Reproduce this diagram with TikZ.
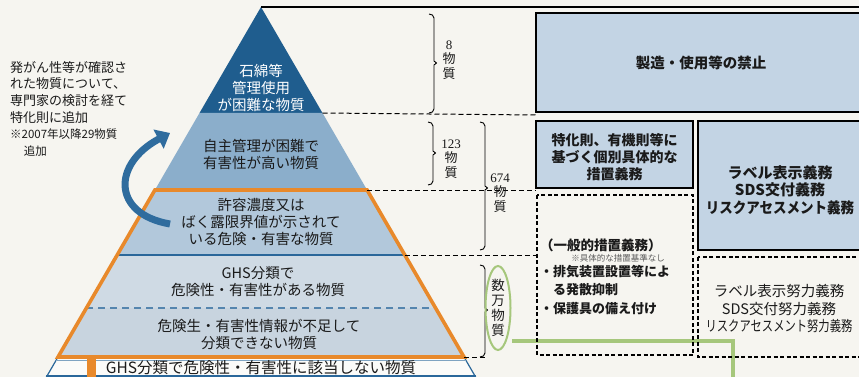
\documentclass[tikz,border=0pt]{standalone}
\usepackage{fontspec}
\setmainfont{Noto Sans CJK JP}
\newfontfamily\numserif{Liberation Serif}
\usetikzlibrary{arrows.meta}
\definecolor{bgc}{HTML}{F6F5F0}
\definecolor{lay1}{HTML}{1F5D8E}
\definecolor{lay2}{HTML}{8BAECB}
\definecolor{lay3}{HTML}{B2C8DB}
\definecolor{lay4}{HTML}{CFDAE4}
\definecolor{lay5}{HTML}{C8D4DF}
\definecolor{boxfill}{HTML}{C3D4E4}
\definecolor{orng}{HTML}{E8892B}
\definecolor{pblue}{HTML}{2A679A}
\definecolor{arrblue}{HTML}{2F6C9E}
\definecolor{grn}{HTML}{A6C77C}
\definecolor{txt}{HTML}{1A1A1A}
\tikzset{
  jp/.style={font=\fontsize{14.5}{17}\selectfont, text=txt, align=center, inner sep=0pt},
  jpb/.style={font=\fontsize{14}{17}\selectfont\bfseries, text=txt, align=center, inner sep=0pt},
  solidbox/.style={draw=black, line width=2.2pt, fill=boxfill},
  dashbox/.style={draw=black, line width=1.1pt, dash pattern=on 4pt off 2.5pt},
  dashline/.style={draw=black, line width=1pt, dash pattern=on 5pt off 3pt},
  brk/.style={draw=black, line width=0.9pt},
  numtxt/.style={font=\fontsize{13}{14.5}\selectfont, text=txt, align=center, inner sep=0pt}
}
\newcommand{\brkpath}[4]{% x, top, mid, bottom
  \draw[brk] (#1-5,#2) to[out=0,in=90] (#1,#2+4) -- (#1,#3-2) -- (#1+2.5,#3) -- (#1,#3+2) -- (#1,#4-4) to[out=-90,in=0] (#1-5,#4);}
\begin{document}
\begin{tikzpicture}[x=1pt,y=-1pt]
\useasboundingbox (0,0) rectangle (859,377);
\fill[bgc] (0,0) rectangle (859,377);

% pyramid corner coordinates
\coordinate (apex) at (261,7);
\coordinate (l1) at (199.5,113); \coordinate (r1) at (322.5,113);
\coordinate (l2) at (154.9,190); \coordinate (r2) at (367.1,190);
\coordinate (l3) at (117.2,255); \coordinate (r3) at (404.8,255);
\coordinate (l4) at (86.4,308);  \coordinate (r4) at (435.6,308);
\coordinate (l5) at (58,357);    \coordinate (r5) at (464,357);
\coordinate (l6) at (46.4,377);  \coordinate (r6) at (475.6,377);

% layers
\fill[lay1] (apex) -- (r1) -- (l1) -- cycle;
\fill[lay2] (l1) -- (r1) -- (r2) -- (l2) -- cycle;
\fill[lay3] (l2) -- (r2) -- (r3) -- (l3) -- cycle;
\fill[lay4] (l3) -- (r3) -- (r4) -- (l4) -- cycle;
\fill[lay5] (l4) -- (r4) -- (r5) -- (l5) -- cycle;
\fill[white!60!bgc] (l5) -- (r5) -- (r6) -- (l6) -- cycle;
\draw[pblue, line width=1.2pt] (l5) -- (l6);
\draw[pblue, line width=1.2pt] (r5) -- (r6);
\draw[pblue!60, line width=0.8pt] (56.3,360.5) -- (465.7,360.5);
\draw[pblue, line width=1.4pt] (46,376) -- (476,376);
\draw[pblue, line width=1.8pt] (l3) -- (r3);
\draw[pblue!80, line width=1.5pt, dash pattern=on 7pt off 5pt] (l4) -- (r4);

% orange frame
\draw[orng, line width=3.6pt, line join=miter] (l2) -- (r2) -- (r5) -- (l5) -- cycle;
\fill[orng] (87,358) rectangle (96,377);

% top line and dashed level lines
\draw[black, line width=1.2pt] (apex) -- (870,7);
\draw[dashline] (r1) -- (536,115);
\draw[dashline] (r2) -- (536,190);
\draw[dashline] (r3) -- (537,255);
\draw[dashline] (r5) -- (485,357);

% pyramid texts
\node[jp, text=white] (t1) at (261,88) {石綿等\\管理使用\\が困難な物質};
\node[jp] (t2) at (261,154) {自主管理が困難で\\有害性が高い物質};
\node[jp] (t3) at (261,222) {許容濃度又は\\ばく露限界値が示されて\\いる危険・有害な物質};
\node[jp] (t4) at (258,282) {GHS分類で\\危険性・有害性がある物質};
\node[jp] (t5) at (259,334) {危険生・有害性情報が不足して\\分類できない物質};
\node[jp, font=\fontsize{15.5}{16}\selectfont] (t6) at (261,368) {GHS分類で危険性・有害性に該当しない物質};

% left text and curved arrow
\node[jp, align=left, anchor=north west, font=\fontsize{13}{16.8}\selectfont] (lt) at (10,61) {発がん性等が確認さ\\れた物質について、\\専門家の検討を経て\\特化則に追加};
\node[jp, align=left, anchor=north west, font=\fontsize{11.5}{16.8}\selectfont] (lt2) at (10,129) {※2007年以降29物質\\\hspace*{1.2em}追加};
\coordinate (arrS) at (170,224);
\coordinate (arrE) at (170,133);
\draw[arrblue, line width=7pt, -{Triangle[length=13pt,width=21pt]}] (arrS) .. controls (112,214) and (112,164) .. (arrE);

% brackets and counts
\brkpath{434}{14}{63}{113}
\node[numtxt] (n8) at (449,60) {{\numserif 8}\\物\\質};
\brkpath{433}{122}{153}{185}
\node[numtxt] (n123) at (451,159) {{\numserif 123}\\物\\質};
\brkpath{485}{122}{188}{250}
\node[numtxt] (n674) at (500,193) {{\numserif 674}\\物\\質};
\brkpath{485}{265}{310}{357}
\node[numtxt, font=\fontsize{13.5}{15}\selectfont] (nman) at (498,308) {数\\万\\物\\質};
\draw[grn, line width=2pt] (nman) ellipse [x radius=12.5, y radius=42];
\coordinate (g1) at (512,341);
\coordinate (g2) at (733,341);
\coordinate (g3) at (733,380);
\draw[grn, line width=4pt] (g1) -- (g2) -- (g3);

% right boxes
\draw[solidbox] (536,13) rectangle (872,112);
\node[jpb, font=\fontsize{14.5}{17}\selectfont\bfseries] (b1) at (701,63) {製造・使用等の禁止};
\draw[solidbox] (536,121) rectangle (693,188);
\node[jpb] (b2) at (614.5,157) {特化則、有機則等に\\基づく個別具体的な\\措置義務};
\draw[solidbox] (698,121) rectangle (872,250);
\node[jpb, font=\fontsize{15}{17.5}\selectfont\bfseries] (b3) at (780,190) {ラベル表示義務\\SDS交付義務\\\scalebox{0.9}[1]{リスクアセスメント義務}};
\draw[dashbox] (537,195) rectangle (693,355);
\node[jpb, anchor=west, font=\fontsize{13.5}{17}\selectfont\bfseries] (b4a) at (540,245) {（一般的措置義務）};
\node[jp, font=\fontsize{8.5}{10}\selectfont, text=black!65] (b4b) at (618,258) {※具体的な措置基準なし};
\node[jpb, anchor=west, font=\fontsize{13}{17}\selectfont\bfseries] (b4c) at (540,272) {・排気装置設置等によ};
\node[jpb, anchor=west, font=\fontsize{13}{17}\selectfont\bfseries] (b4d) at (553,290) {る発散抑制};
\node[jpb, anchor=west, font=\fontsize{13}{17}\selectfont\bfseries] (b4e) at (540,309) {・保護具の備え付け};
\draw[dashbox] (698,257) rectangle (872,357);
\node[jp, font=\fontsize{14.5}{17.5}\selectfont] (b5) at (779,309) {ラベル表示努力義務\\SDS交付努力義務\\\scalebox{0.78}[1]{リスクアセスメント努力義務}};
\end{tikzpicture}
\end{document}
